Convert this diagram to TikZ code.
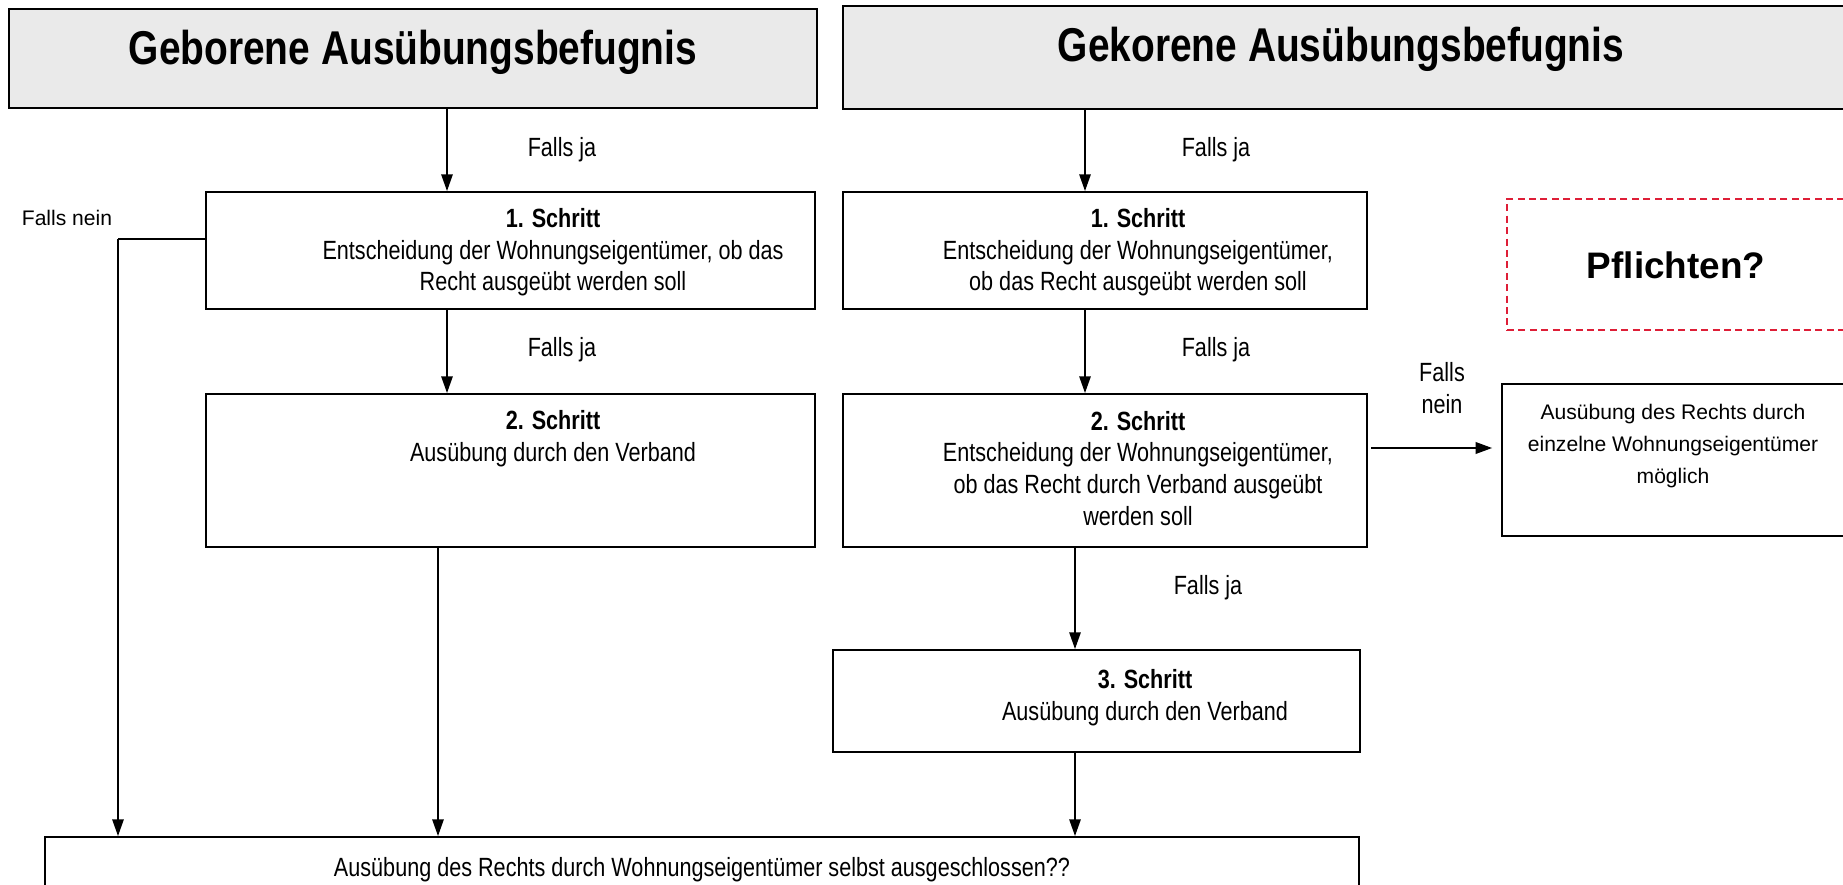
\documentclass[tikz,border=0pt]{standalone}
\usepackage{fontspec}
\setmainfont{Liberation Sans}
\newfontfamily\narrowfont{Liberation Sans}[FakeStretch=0.82]
\usetikzlibrary{arrows.meta,fit}
\definecolor{headgray}{RGB}{234,234,234}
\definecolor{pflichtred}{RGB}{222,30,55}

\begin{document}
\begin{tikzpicture}[
    x=0.02cm, y=-0.02cm,
    box/.style={draw, line width=1.1pt, inner sep=0pt},
    headbox/.style={box, fill=headgray},
    dashbox/.style={draw=pflichtred, line width=1.1pt, dash pattern=on 4pt off 2.5pt, inner sep=0pt},
    flow/.style={line width=0.85pt, -{Triangle[length=9.5pt,width=6.5pt]}},
    headtxt/.style={font=\narrowfont\bfseries\fontsize{27}{32}\selectfont, anchor=base, inner sep=0pt},
    steptxt/.style={font=\narrowfont\fontsize{15}{18}\selectfont, align=center, anchor=base, inner sep=0pt},
    plaintxt/.style={font=\fontsize{12}{18}\selectfont, align=center, anchor=base, inner sep=0pt},
]
\useasboundingbox (0,0) rectangle (1843,885);
\clip (0,0) rectangle (1843,885);

% Headers
\node[headbox, fit={(9,9)(817,108)}] (gebHead) {};
\node[headtxt] (gebHeadTxt) at (413,65) {Geborene Ausübungsbefugnis};
\node[headbox, fit={(843,6)(1850,109)}] (gekHead) {};
\node[headtxt] (gekHeadTxt) at (1341,62) {Gekorene Ausübungsbefugnis};

% Left column: geborene (text nodes sit on the baseline of their last line)
\node[box, fit={(206,192)(815,309)}] (gStepOne) {};
\node[steptxt] (gStepOneTxt) at (553,291)
    {\textbf{1. Schritt}\\Entscheidung der Wohnungseigentümer, ob das\\Recht ausgeübt werden soll};
\node[box, fit={(206,394)(815,547)}] (gStepTwo) {};
\node[steptxt] (gStepTwoTxt) at (553,461) {\textbf{2. Schritt}\\Ausübung durch den Verband};

% Right column: gekorene
\node[box, fit={(843,192)(1367,309)}] (kStepOne) {};
\node[steptxt] (kStepOneTxt) at (1138,291)
    {\textbf{1. Schritt}\\Entscheidung der Wohnungseigentümer,\\ob das Recht ausgeübt werden soll};
\node[box, fit={(843,394)(1367,547)}] (kStepTwo) {};
\node[steptxt] (kStepTwoTxt) at (1138,525)
    {\textbf{2. Schritt}\\Entscheidung der Wohnungseigentümer,\\ob das Recht durch Verband ausgeübt\\werden soll};
\node[box, fit={(833,650)(1360,752)}] (kStepThree) {};
\node[steptxt] (kStepThreeTxt) at (1145,720) {\textbf{3. Schritt}\\Ausübung durch den Verband};

% Side boxes
\node[dashbox, fit={(1507,199)(1850,330)}] (pflichten) {};
\node[font=\bfseries\fontsize{21}{25}\selectfont, anchor=base, inner sep=0pt] (pflichtenTxt) at (1676,278) {Pflichten?};
\node[box, fit={(1502,384)(1850,536)}] (einzeln) {};
\node[plaintxt] (einzelnTxt) at (1673,483) {Ausübung des Rechts durch\\einzelne Wohnungseigentümer\\möglich};

% Result
\node[box, fit={(45,837)(1359,900)}] (result) {};
\node[steptxt] (resultTxt) at (702,876) {Ausübung des Rechts durch Wohnungseigentümer selbst ausgeschlossen??};

% Labels
\node[steptxt] (jaOne) at (562,157) {Falls ja};
\node[steptxt] (jaTwo) at (562,357) {Falls ja};
\node[steptxt] (jaThree) at (1216,157) {Falls ja};
\node[steptxt] (jaFour) at (1216,357) {Falls ja};
\node[steptxt] (jaFive) at (1208,594) {Falls ja};
\node[plaintxt] (neinLeft) at (67,226) {Falls nein};
\node[steptxt] (neinRight) at (1442,413) {Falls\\nein};

% Connectors
\coordinate (gAx) at (447,0);
\coordinate (gBx) at (438,0);
\coordinate (kAx) at (1085,0);
\coordinate (kBx) at (1075,0);
\coordinate (neinCorner) at (118,239);
\coordinate (kNein) at (0,448);

\draw[flow] (gebHead.south -| gAx) -- (gStepOne.north -| gAx);
\draw[flow] (gStepOne.south -| gAx) -- (gStepTwo.north -| gAx);
\draw[flow] (gStepTwo.south -| gBx) -- (result.north -| gBx);
\draw[line width=1.1pt] (gStepOne.west |- neinCorner) -- (neinCorner);
\draw[flow] (neinCorner) -- (result.north -| neinCorner);

\draw[flow] (gekHead.south -| kAx) -- (kStepOne.north -| kAx);
\draw[flow] (kStepOne.south -| kAx) -- (kStepTwo.north -| kAx);
\draw[flow] (kStepTwo.south -| kBx) -- (kStepThree.north -| kBx);
\draw[flow] (kStepThree.south -| kBx) -- (result.north -| kBx);
\draw[flow, line width=1.4pt, shorten <=2pt, shorten >=5pt] (kStepTwo.east |- kNein) -- (einzeln.west |- kNein);

\end{tikzpicture}
\end{document}
